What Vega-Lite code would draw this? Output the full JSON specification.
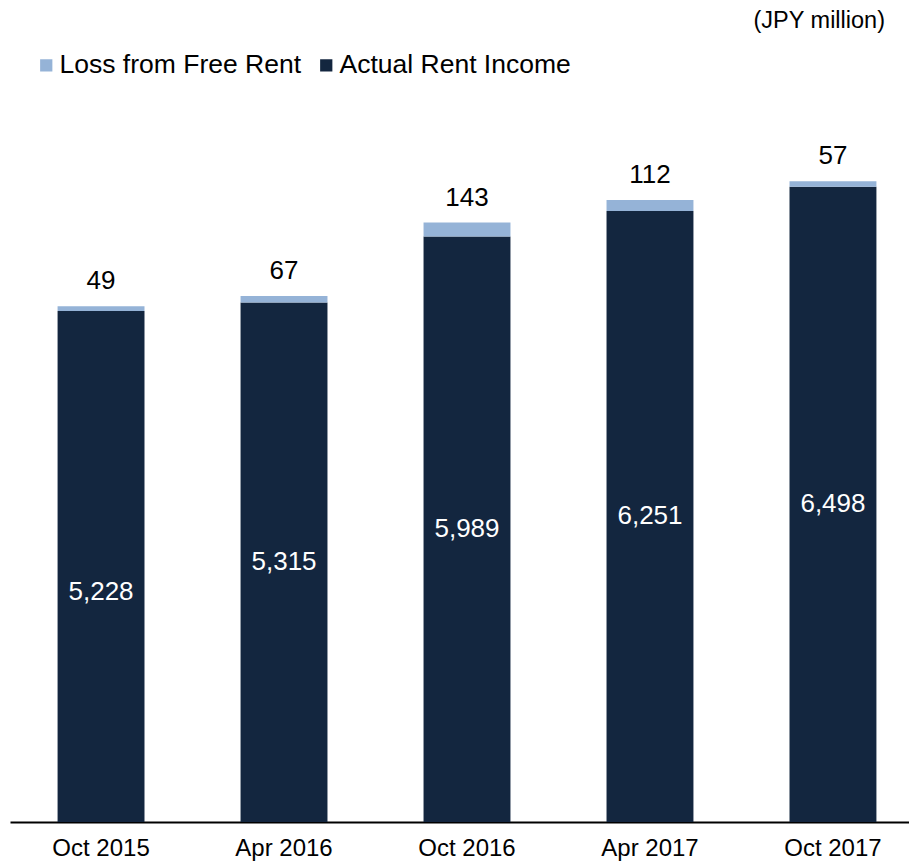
{
  "$schema": "https://vega.github.io/schema/vega-lite/v6.json",
  "width": 914,
  "height": 782,
  "autosize": {"type": "none"},
  "padding": {"left": 10, "top": 40, "right": 0, "bottom": 41},
  "config": {
    "font": "Liberation Sans",
    "view": {"stroke": null},
    "text": {"font": "Liberation Sans"}
  },
  "title": {
    "text": "(JPY million)",
    "anchor": "end",
    "frame": "group",
    "fontSize": 23.5,
    "fontWeight": "normal",
    "color": "#000000",
    "dx": -39,
    "offset": 8
  },
  "data": {
    "values": [
      {"period": "Oct 2015", "series": "Actual Rent Income", "value": 5228},
      {"period": "Oct 2015", "series": "Loss from Free Rent", "value": 49},
      {"period": "Apr 2016", "series": "Actual Rent Income", "value": 5315},
      {"period": "Apr 2016", "series": "Loss from Free Rent", "value": 67},
      {"period": "Oct 2016", "series": "Actual Rent Income", "value": 5989},
      {"period": "Oct 2016", "series": "Loss from Free Rent", "value": 143},
      {"period": "Apr 2017", "series": "Actual Rent Income", "value": 6251},
      {"period": "Apr 2017", "series": "Loss from Free Rent", "value": 112},
      {"period": "Oct 2017", "series": "Actual Rent Income", "value": 6498},
      {"period": "Oct 2017", "series": "Loss from Free Rent", "value": 57}
    ]
  },
  "encoding": {
    "x": {
      "field": "period",
      "type": "nominal",
      "sort": null,
      "scale": {"paddingInner": 0.525, "paddingOuter": 0.26},
      "axis": {
        "title": null,
        "ticks": false,
        "labelAngle": 0,
        "labelFontSize": 24,
        "labelColor": "#000000",
        "labelPadding": 14,
        "domainColor": "#000000",
        "domainWidth": 2
      }
    }
  },
  "layer": [
    {
      "mark": {"type": "bar"},
      "encoding": {
        "y": {
          "field": "value",
          "type": "quantitative",
          "stack": "zero",
          "scale": {"domain": [0, 8000], "nice": false},
          "axis": null
        },
        "color": {
          "field": "series",
          "type": "nominal",
          "scale": {
            "domain": ["Loss from Free Rent", "Actual Rent Income"],
            "range": ["#95B3D7", "#13263F"]
          },
          "legend": {
            "orient": "none",
            "legendX": 23,
            "legendY": 12,
            "direction": "horizontal",
            "title": null,
            "symbolType": "square",
            "symbolSize": 150,
            "symbolStrokeWidth": 0,
            "labelFontSize": 26.5,
            "labelColor": "#000000",
            "labelLimit": 0,
            "labelOffset": 0,
            "columnPadding": 11,
            "padding": 0
          }
        },
        "order": {"field": "series", "sort": "ascending"}
      }
    },
    {
      "transform": [
        {"joinaggregate": [{"op": "sum", "field": "value", "as": "total"}], "groupby": ["period"]},
        {"filter": "datum.series === 'Loss from Free Rent'"}
      ],
      "mark": {"type": "text", "fontSize": 26, "color": "#000000", "baseline": "alphabetic", "dy": -17},
      "encoding": {
        "y": {"field": "total", "type": "quantitative"},
        "text": {"field": "value", "type": "quantitative", "format": ","}
      }
    },
    {
      "transform": [
        {"filter": "datum.series === 'Actual Rent Income' && datum.period !== 'Oct 2015'"},
        {"calculate": "datum.value / 2", "as": "mid"}
      ],
      "mark": {"type": "text", "fontSize": 26, "color": "#FFFFFF", "baseline": "middle"},
      "encoding": {
        "y": {"field": "mid", "type": "quantitative"},
        "text": {"field": "value", "type": "quantitative", "format": ","}
      }
    },
    {
      "transform": [
        {"filter": "datum.series === 'Actual Rent Income' && datum.period === 'Oct 2015'"},
        {"calculate": "datum.value / 2", "as": "mid"}
      ],
      "mark": {"type": "text", "fontSize": 26, "color": "#FFFFFF", "baseline": "middle", "dy": 26},
      "encoding": {
        "y": {"field": "mid", "type": "quantitative"},
        "text": {"field": "value", "type": "quantitative", "format": ","}
      }
    }
  ]
}
